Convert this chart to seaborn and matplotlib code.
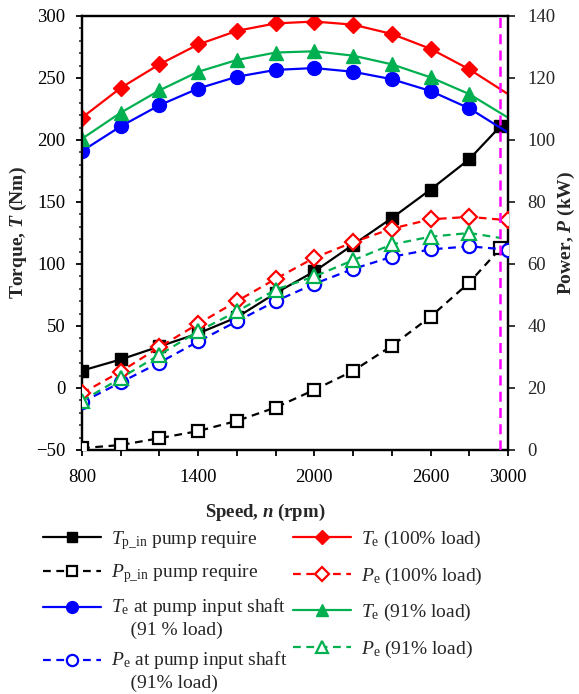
import numpy as np
import matplotlib
matplotlib.use("Agg")
import matplotlib.pyplot as plt
from matplotlib.legend_handler import HandlerLine2D
from matplotlib.ticker import MultipleLocator, FuncFormatter
import seaborn as sns

sns.set_style("ticks")
plt.rcParams["font.family"] = ["Liberation Serif", "DejaVu Serif"]
plt.rcParams["mathtext.fontset"] = "custom"
plt.rcParams["mathtext.rm"] = "Liberation Serif"
plt.rcParams["mathtext.it"] = "Liberation Serif:italic"
plt.rcParams["mathtext.bf"] = "Liberation Serif:bold"
plt.rcParams["mathtext.bfit"] = "Liberation Serif:bold:italic"

# ---- data ----
speed = [800, 1000, 1200, 1400, 1600, 1800, 2000, 2200, 2400, 2600, 2800]
rated_speed = 2960
speed_to_rated = speed + [rated_speed]
speed_to_end = speed + [3000]

# torque (left axis, Nm)
t_pump_in = [14, 23, 33.5, 44, 57, 76.5, 94, 115.5, 137, 160, 184.5, 211]
t_e_pump_shaft = [191, 211, 228, 241.5, 251, 256.5, 258, 255, 249, 239.5, 225.5, 206]
t_e_100 = [218, 242, 261, 277, 288, 294, 295.5, 293, 285.5, 273.5, 257, 237]
t_e_91 = [201, 222, 240, 255, 264.5, 270.5, 271.5, 268, 261, 250.5, 237, 218]

# power (right axis, kW)
p_pump_in = [0.6, 1.6, 3.8, 6.1, 9.4, 13.7, 19.4, 25.5, 33.6, 43, 54, 65]
p_e_pump_shaft = [15.4, 21.8, 28.2, 35, 41.5, 48, 53.6, 58.4, 62.3, 64.7, 65.7, 64.6]
p_e_100 = [18.3, 25.3, 33.2, 40.7, 48, 55.2, 62, 67, 71.4, 74.4, 75.2, 74.1]
p_e_91 = [15.8, 23.2, 30.7, 38.3, 44.7, 51.7, 56, 61.2, 66.3, 68.8, 70, 68.4]

x_tick_labels = ["800", "1400", "2000", "2600", "3000"]

RED = "#ff0000"
GREEN = "#00b050"
BLUE = "#0000ff"
BLACK = "#000000"
MAGENTA = "#ff00ff"

fig = plt.figure(figsize=(5.79, 6.94), dpi=100)
ax = fig.add_axes([0.1416, 0.3516, 0.7358, 0.6254])
ax2 = ax.twinx()

LW = 1.6
MS = 9
DASH = (0, (3.5, 2.5))
no_last = list(range(len(speed)))


def draw(axis, x, y, color, marker, filled, dashed, label, markevery=None, ms=MS):
    sns.lineplot(
        x=x, y=y, ax=axis, color=color, marker=marker, markersize=ms,
        markerfacecolor=color if filled else "white",
        markeredgecolor=color, markeredgewidth=1.6 if not filled else 1.0,
        linestyle=DASH if dashed else "-", linewidth=LW,
        markevery=markevery, label=label, legend=False, zorder=3,
    )
    return axis.get_lines()[-1]


h_tp = draw(ax, speed_to_rated, t_pump_in, BLACK, "s", True, False,
            r"$T_{\mathrm{p\_in}}$ pump require")
h_te_shaft = draw(ax, speed_to_end, t_e_pump_shaft, BLUE, "o", True, False,
                  "$T_{\\mathrm{e}}$ at pump input shaft\n    (91 % load)", no_last, 10)
h_te100 = draw(ax, speed_to_end, t_e_100, RED, "D", True, False,
               r"$T_{\mathrm{e}}$ (100% load)", no_last, 8.5)
h_te91 = draw(ax, speed_to_end, t_e_91, GREEN, "^", True, False,
              r"$T_{\mathrm{e}}$ (91% load)", no_last, 10)

h_pp = draw(ax2, speed_to_rated, p_pump_in, BLACK, "s", False, True,
            r"$P_{\mathrm{p\_in}}$ pump require")
h_pe_shaft = draw(ax2, speed_to_end, p_e_pump_shaft, BLUE, "o", False, True,
                  "$P_{\\mathrm{e}}$ at pump input shaft\n    (91% load)", None, 9.5)
h_pe100 = draw(ax2, speed_to_end, p_e_100, RED, "D", False, True,
               r"$P_{\mathrm{e}}$ (100% load)", None, 8.5)
h_pe91 = draw(ax2, speed_to_rated, p_e_91, GREEN, "^", False, True,
              r"$P_{\mathrm{e}}$ (91% load)", no_last, 10)

ax2.axvline(rated_speed, color=MAGENTA, linestyle=(0, (4, 2.5)), linewidth=1.8, zorder=4)

# axes limits and ticks
ax.set_xlim(800, 3000)
ax.set_ylim(-50, 300)
ax2.set_ylim(0, 140)
ax.xaxis.set_major_locator(MultipleLocator(200))
ax.xaxis.set_major_formatter(
    FuncFormatter(lambda v, p: f"{int(round(v))}" if f"{int(round(v))}" in x_tick_labels else ""))
ax.yaxis.set_major_locator(MultipleLocator(50))
ax.yaxis.set_minor_locator(MultipleLocator(10))
ax2.yaxis.set_major_locator(MultipleLocator(20))

for a in (ax, ax2):
    for s in a.spines.values():
        s.set_linewidth(1.6)
        s.set_color("black")
ax.tick_params(axis="both", which="major", direction="out", length=4, width=1.3,
               labelsize=13.5, colors="black")
ax.tick_params(axis="x", pad=10)
ax.tick_params(axis="y", pad=8)
ax.tick_params(axis="y", which="minor", direction="out", length=2.5, width=1.1)
ax2.tick_params(axis="y", which="major", direction="out", length=5, width=1.3,
                labelsize=13.5, pad=9)
ax.tick_params(top=False)

ax.set_xlabel(r"Speed, $\mathbfit{n}$ (rpm)", fontsize=13.5, fontweight="bold")
ax.xaxis.set_label_coords(0.43, -0.12)
ax.set_ylabel(r"Torque, $\mathbfit{T}$ (Nm)", fontsize=14, fontweight="bold", labelpad=5)
ax2.set_ylabel(r"Power, $\mathbfit{P}$ (kW)", fontsize=14, fontweight="bold", labelpad=0)


class HandlerTopLine(HandlerLine2D):
    """Aligns the legend handle with the first line of a two-line label."""

    def __init__(self, shift, **kw):
        super().__init__(**kw)
        self.shift = shift

    def create_artists(self, legend, orig_handle, xdescent, ydescent, width, height, fontsize, trans):
        artists = super().create_artists(legend, orig_handle, xdescent, ydescent,
                                         width, height, fontsize, trans)
        for a in artists:
            a.set_ydata(np.asarray(a.get_ydata()) + self.shift * fontsize)
        return artists


leg_kw = dict(frameon=False, fontsize=14, handlelength=3.0, handletextpad=0.5,
              borderpad=0, borderaxespad=0, markerscale=0.85, loc="upper left")

col1 = [h_tp, h_pp, h_te_shaft, h_pe_shaft]
leg1 = fig.legend(
    col1, [h.get_label() for h in col1], bbox_to_anchor=(0.074, 0.238),
    labelspacing=0.55,
    handler_map={h_te_shaft: HandlerTopLine(0.52), h_pe_shaft: HandlerTopLine(0.52)},
    **leg_kw,
)
for t in leg1.get_texts():
    t.set_linespacing(1.25)

col2 = [h_te100, h_pe100, h_te91, h_pe91]
leg2 = fig.legend(
    col2, [h.get_label() for h in col2], bbox_to_anchor=(0.506, 0.238),
    labelspacing=0.8, **leg_kw,
)

fig.savefig("out.png", dpi=100)
